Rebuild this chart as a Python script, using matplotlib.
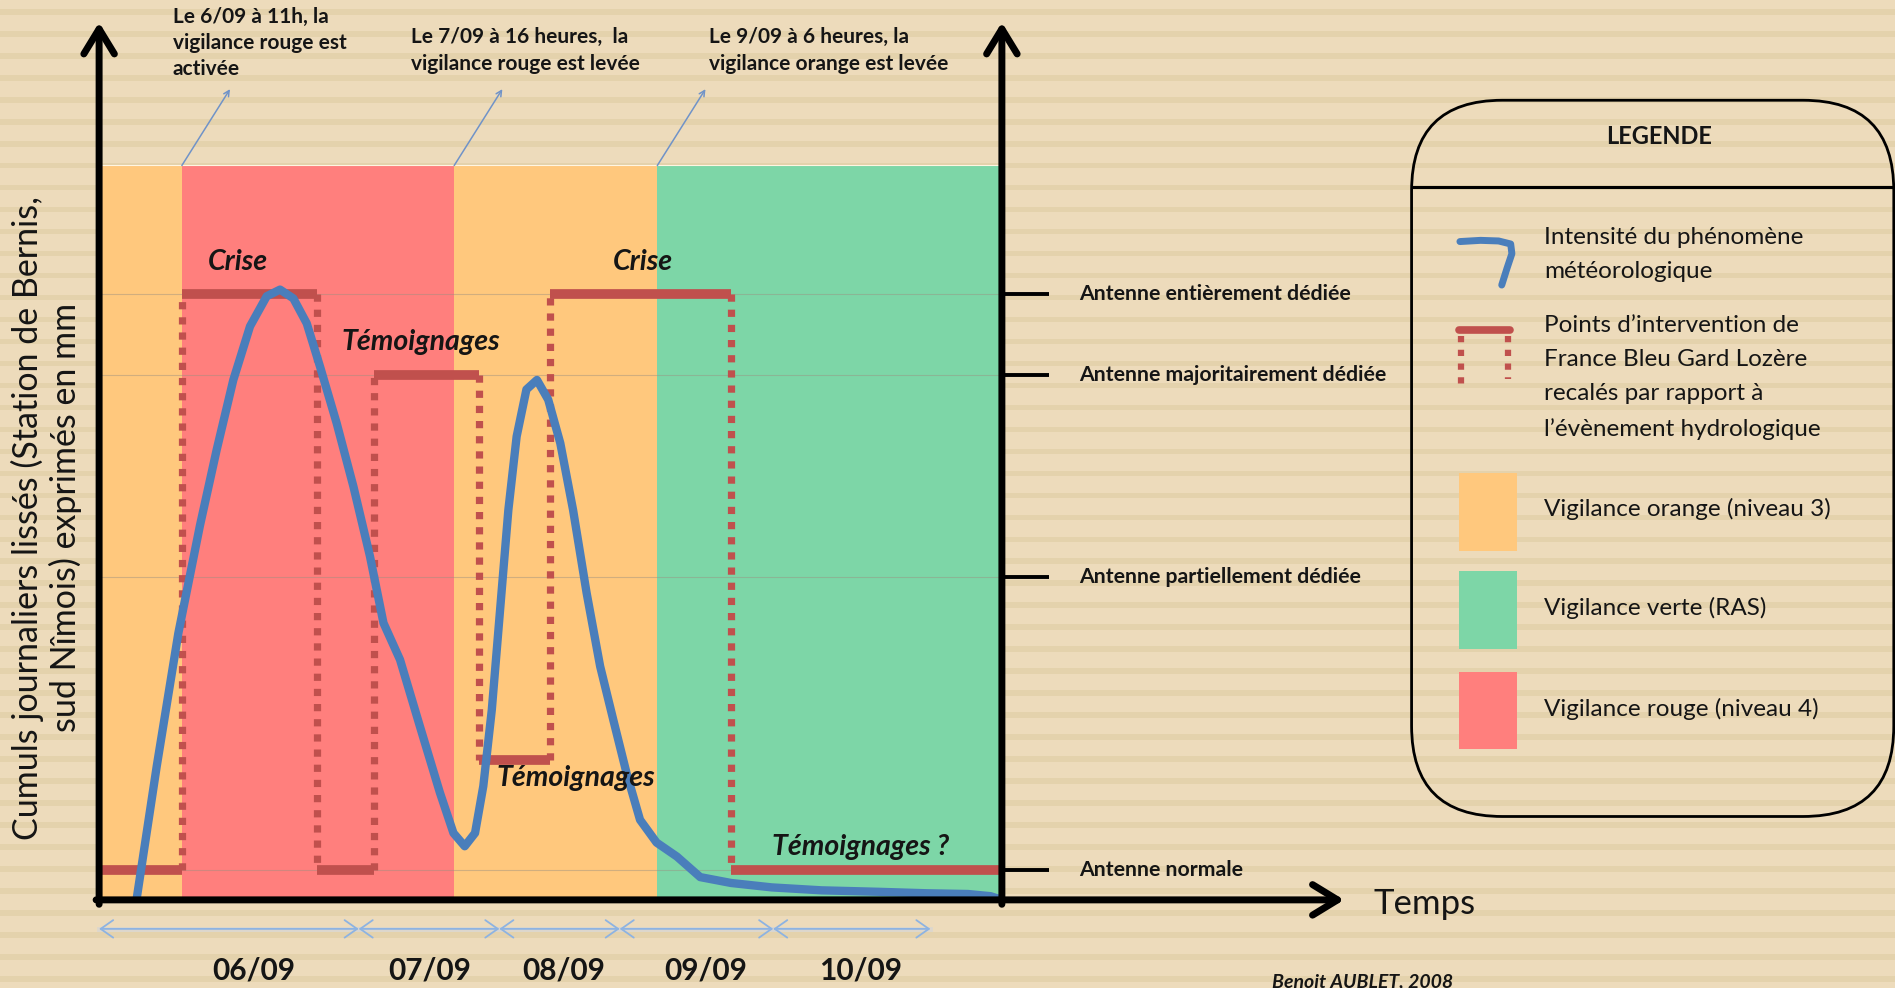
import matplotlib
matplotlib.use("Agg")
import matplotlib.pyplot as plt
from matplotlib.patches import FancyBboxPatch, Rectangle
import numpy as np

plt.rcParams['font.family'] = ['Lato', 'DejaVu Sans']

# time in hours from the start of 06/09 (schematic), level in arbitrary units 0..100
band_edges = [0, 11, 47.2, 74.2, 120]
band_colors = ['#FFC87D', '#FF7F7D', '#FFC87D', '#7DD6A7']

curve_t = [5.0, 7.66, 10.53, 13.41, 15.63, 17.84, 20.06, 22.28, 24.05, 25.82, 27.6,
           29.37, 31.58, 33.8, 36.0, 37.8, 40.0, 42.65, 45.3, 47.1, 48.6, 49.97, 51.07,
           52.2, 53.3, 54.4, 55.5, 56.8, 58.2, 59.7, 61.3, 63.0, 64.8, 66.6, 68.35, 70.1,
           71.9, 74.1, 76.8, 79.9, 84.0, 89.4, 96.0, 103.6, 110.0, 115.5, 118.5, 120]
curve_level = [0.2, 18.2, 36.3, 51.0, 61.3, 70.8, 78.1, 82.2, 83.1, 81.9, 78.5,
               72.6, 64.9, 56.3, 46.8, 37.7, 32.7, 23.6, 14.6, 9.1, 7.3, 9.1, 15.5,
               25.9, 39.5, 53.1, 63.1, 69.5, 70.8, 68.1, 62.2, 53.1, 41.8, 31.8, 24.5, 17.3,
               10.9, 7.8, 5.9, 3.1, 2.3, 1.7, 1.3, 1.1, 0.9, 0.8, 0.5, 0.0]

# radio intervention steps
step_t = [0, 11, 29, 36.5, 50.5, 60, 84, 120]
step_level = [4.0, 82.5, 4.0, 71.5, 19.0, 82.5, 4.0]

antenna_levels = [82.5, 71.5, 43.9, 4.0]
antenna_names = ['Antenne entièrement dédiée', 'Antenne majoritairement dédiée',
                 'Antenne partiellement dédiée', 'Antenne normale']

phase_labels = ['Crise', 'Témoignages', 'Témoignages', 'Crise', 'Témoignages ?']
phase_t = [18.5, 42.7, 63.3, 72.3, 101.2]
phase_level = [86.8, 76.0, 16.6, 86.8, 7.2]

alert_texts = ['Le 6/09 à 11h, la\nvigilance rouge est\nactivée',
               'Le 7/09 à 16 heures,  la\nvigilance rouge est levée',
               'Le 9/09 à 6 heures, la\nvigilance orange est levée']
alert_t = [11, 47.2, 74.2]
alert_text_t = [9.8, 41.4, 81.1]
alert_text_level = [121.6, 118.8, 118.8]

day_edges = [0, 34.5, 53.2, 69.2, 89.6, 110.5]
day_labels = ['06/09', '07/09', '08/09', '09/09', '10/09']
day_label_t = [20.6, 44.0, 61.7, 80.6, 101.2]

legend_labels = ['Intensité du phénomène\nmétéorologique',
                 'Points d’intervention de\nFrance Bleu Gard Lozère\nrecalés par rapport à\nl’évènement hydrologique',
                 'Vigilance orange (niveau 3)', 'Vigilance verte (RAS)', 'Vigilance rouge (niveau 4)']

BLUE = '#4A7EBB'
RED = '#C0504D'
INK = '#151515'

fig = plt.figure(figsize=(18.95, 9.88), dpi=100)

# striped paper background, units of a 1568x818 sketch
bg = fig.add_axes([0, 0, 1, 1])
bg.set_xlim(0, 1568)
bg.set_ylim(818, 0)
bg.axis('off')
bg.add_patch(Rectangle((0, 0), 1568, 818, color='#EDDBBB', zorder=0))
for y0 in np.arange(25.6 - 18.2 * 2, 818, 18.2):
    bg.axhspan(y0, y0 + 4.7, color='#E4D2AC', lw=0, zorder=0.5)

ax = fig.add_axes([0.0523, 0.0892, 0.4764, 0.7433])
ax.set_xlim(0, 120)
ax.set_ylim(0, 100)
ax.axis('off')

for a, b, c in zip(band_edges[:-1], band_edges[1:], band_colors):
    ax.axvspan(a, b, color=c, lw=0, zorder=1)
ax.axhline(100, color='#FFF6E2', lw=1.5, zorder=1.2)
for lv in antenna_levels:
    ax.axhline(lv, color='#9a8f80', lw=0.8, alpha=0.45, zorder=1.3)

# intervention line: solid plateaus, dotted transitions
for i in range(len(step_level)):
    ax.plot([step_t[i], step_t[i + 1]], [step_level[i], step_level[i]], color=RED, lw=7,
            solid_capstyle='butt', zorder=3, clip_on=False)
for i in range(1, len(step_level)):
    ax.plot([step_t[i], step_t[i]], [step_level[i - 1], step_level[i]], color=RED, lw=5.2,
            linestyle=(0, (1, 1.1)), dash_capstyle='butt', zorder=3)

ax.plot(curve_t, curve_level, color=BLUE, lw=6, solid_joinstyle='round',
        solid_capstyle='round', zorder=4)

for txt, t, lv in zip(phase_labels, phase_t, phase_level):
    ax.text(t, lv, txt, ha='center', va='center', fontsize=20.5, fontweight='bold',
            fontstyle='italic', color=INK, zorder=5)

# axes drawn as arrows
arrow = dict(arrowstyle='->,head_length=0.9,head_width=0.55', lw=5, color='black',
             shrinkA=0, shrinkB=0, mutation_scale=20)
ax.annotate('', xy=(0, 119.5), xytext=(0, -0.6), arrowprops=arrow, annotation_clip=False, zorder=6)
ax.annotate('', xy=(120, 119.5), xytext=(120, -0.6), arrowprops=arrow, annotation_clip=False, zorder=6)
ax.annotate('', xy=(165.5, 0), xytext=(-0.4, 0), arrowprops=arrow, annotation_clip=False, zorder=6)
ax.text(169.4, -0.5, 'Temps', ha='left', va='center', fontsize=25, color=INK)

for lv, name in zip(antenna_levels, antenna_names):
    ax.plot([120, 126.3], [lv, lv], color='black', lw=2.8, clip_on=False, solid_capstyle='butt')
    ax.text(130.3, lv, name, ha='left', va='center', fontsize=15.3, fontweight='bold', color=INK)

for txt, t0, tx, ly in zip(alert_texts, alert_t, alert_text_t, alert_text_level):
    ax.text(tx, ly, txt, ha='left', va='top', fontsize=15, fontweight='bold', color=INK,
            linespacing=1.38)
    ax.annotate('', xy=(t0 + 6.4, 110.4), xytext=(t0, 100),
                arrowprops=dict(arrowstyle='->', color='#7093C8', lw=1.1, shrinkA=0, shrinkB=0),
                annotation_clip=False)

for a, b in zip(day_edges[:-1], day_edges[1:]):
    ax.plot([a, b], [-3.95, -3.95], color='#d5d5d5', lw=3.5, alpha=0.7, clip_on=False)
    ax.annotate('', xy=(b, -3.95), xytext=(a, -3.95),
                arrowprops=dict(arrowstyle='<->,head_length=0.5,head_width=0.35', color='#8DB3E2',
                                lw=1.3, shrinkA=0, shrinkB=0, mutation_scale=18),
                annotation_clip=False)
for lab, t in zip(day_labels, day_label_t):
    ax.text(t, -9.6, lab, ha='center', va='center', fontsize=21.5, fontweight='bold', color=INK)

fig.text(0.0245, 0.476, 'Cumuls journaliers lissés (Station de Bernis,\nsud Nîmois) exprimés en mm',
         rotation=90, ha='center', va='center', fontsize=24.5, color=INK, linespacing=1.2)

fig.text(0.7188, 0.006, 'Benoit AUBLET, 2008', ha='center', va='center', fontsize=14,
         fontweight='bold', fontstyle='italic', color=INK)

# legend panel
bg.add_patch(FancyBboxPatch((1168, 83), 399, 593, boxstyle='round,pad=0,rounding_size=75',
                            fill=False, ec='black', lw=2, zorder=2))
bg.plot([1168, 1567], [155, 155], color='black', lw=2.2, zorder=2)
bg.text(1373, 113, 'LEGENDE', ha='center', va='center', fontsize=17, fontweight='bold', color=INK)

bg.plot([1208, 1225, 1240, 1250, 1251, 1247, 1242.6], [200, 199, 199.5, 202, 210, 222, 236],
        color=BLUE, lw=5, solid_capstyle='round', solid_joinstyle='round', zorder=3)
bg.plot([1207, 1249.5], [273, 273], color=RED, lw=5.5, solid_capstyle='round', zorder=3)
bg.plot([1209, 1209], [278, 324], color=RED, lw=4.5, linestyle=(0, (1, 1.2)), zorder=3)
bg.plot([1247.5, 1247.5], [278, 314], color=RED, lw=4.5, linestyle=(0, (1, 1.2)), zorder=3)
for y0, c in zip([392, 473, 556], ['#FFC87D', '#7DD6A7', '#FF7F7D']):
    bg.add_patch(Rectangle((1207, y0), 48, 64, color=c, lw=0, zorder=3))

legend_y = [210.5, 312.5, 421, 503, 587]
for y, lab in zip(legend_y, legend_labels):
    bg.text(1277.6, y, lab, ha='left', va='center', fontsize=17.5, color=INK, linespacing=1.78)

fig.savefig('out.png', dpi=100)
